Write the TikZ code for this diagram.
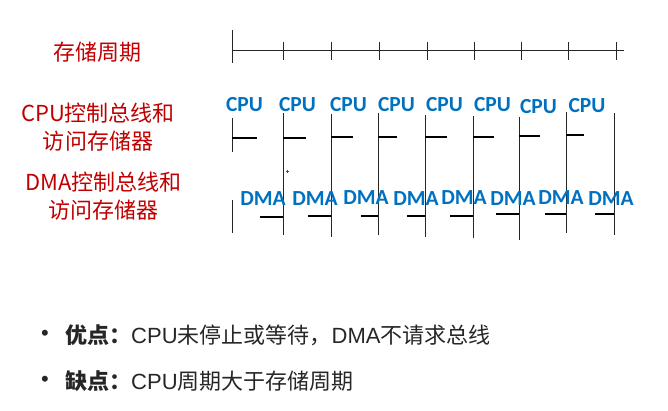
\documentclass[tikz,border=0pt]{standalone}
\usepackage{fontspec}
\setmainfont{Liberation Sans}
\newfontfamily\cjk{Noto Sans CJK SC}
\newfontfamily\calfont{Carlito}
\definecolor{lblred}{HTML}{C00000}
\definecolor{lblblue}{HTML}{0070C0}
\definecolor{txtgray}{HTML}{262626}
\begin{document}
\begin{tikzpicture}[x=1pt,y=-1pt,
  rowlabel/.style={font=\cjk\fontsize{22}{28}\selectfont, text=lblred, align=center, inner sep=0pt},
  buslabel/.style={font=\calfont\bfseries\fontsize{21.5}{24}\selectfont, text=lblblue, inner sep=0pt},
  axisline/.style={line width=1pt, draw=black!85},
  stub/.style={line width=1.8pt, draw=black},
  bullettext/.style={font=\fontsize{22}{26}\selectfont, text=txtgray, anchor=west, inner sep=0pt}]
\useasboundingbox (0,0) rectangle (668,410);

% left labels
\node[rowlabel] (l1) at (97,52) {存储周期};
\node[rowlabel] (l2) at (98,127.5) {CPU控制总线和\\访问存储器};
\node[rowlabel] (l3) at (103.5,196.5) {DMA控制总线和\\访问存储器};

% storage cycle timeline
\coordinate (t0) at (232,50);
\coordinate (tend) at (624,50);
\draw[axisline] (t0) -- (tend);
\draw[axisline] (232,30) -- (232,63);
\foreach \x in {283,331,379,427,474,521,568,616}
  \draw[axisline] (\x,42) -- (\x,60);

% vertical lines of the bus rows
\draw[axisline] (232,118) -- (232,152);
\draw[axisline] (232,200) -- (232,233);
\foreach \x/\a/\b in {283/113/235, 331/114/237, 378/113/235, 425/115/237, 473/116/238, 519/117/240, 566/112/233, 614/113/235}
  \draw[axisline] (\x,\a) -- (\x,\b);

% CPU stubs
\foreach \a/\b/\y in {232/257/138, 283/306/138, 331/353/137, 378/397/137, 425/447/137, 473/494/137, 519/540/136, 566/584/135}
  \draw[stub] (\a,\y) -- (\b,\y);

% DMA stubs
\foreach \a/\b/\y in {260/283/217, 308/331/216, 361/378/216, 407/425/216, 450/473/216, 496/519/214, 545/566/214, 595/614/214}
  \draw[stub] (\a,\y) -- (\b,\y);

% CPU labels
\foreach \x/\y [count=\i] in {244.5/105, 297.5/105, 348.5/105, 396.5/105, 444.5/104.5, 492.5/105, 538.5/106.5, 587/105.5}
  \node[buslabel] (cpu\i) at (\x,\y) {CPU};

% DMA labels
\foreach \x/\y [count=\i] in {263/198.5, 315/198.5, 366/198, 416/199, 464/198, 513/199, 561/198, 611/199}
  \node[buslabel] (dma\i) at (\x,\y) {DMA};

% small red mark
\draw[red, line width=0.5pt] (285.5,171) -- (288.5,171) (287,169.5) -- (287,172.5);

% bullets
\node[bullettext, anchor=center] (b1) at (45,335) {•};
\node[bullettext] (p1) at (65,335) {{\cjk\bfseries 优点：}CPU{\cjk 未停止或等待，}DMA{\cjk 不请求总线}};
\node[bullettext, anchor=center] (b2) at (45,381) {•};
\node[bullettext] (p2) at (65,381) {{\cjk\bfseries 缺点：}CPU{\cjk 周期大于存储周期}};
\end{tikzpicture}
\end{document}
